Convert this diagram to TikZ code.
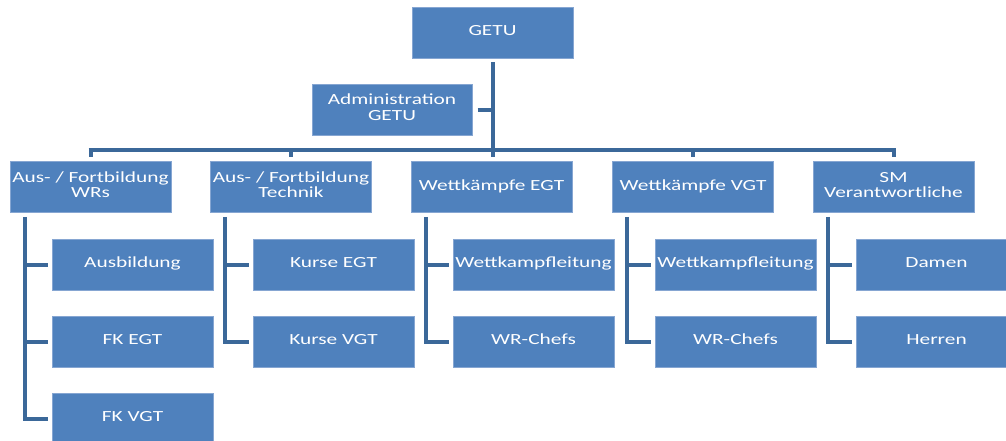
\documentclass[tikz,border=0pt]{standalone}
\usepackage{fontspec}
\setmainfont{Carlito}
\usepackage{graphicx}
\usetikzlibrary{calc}
\definecolor{boxblue}{HTML}{4F81BD}
\definecolor{boxedge}{HTML}{86A6D2}
\definecolor{lineblue}{HTML}{3B6899}
\newcommand{\boxtxt}[1]{\scalebox{1.38}[1]{\begin{tabular}{@{}c@{}}#1\end{tabular}}}

\begin{document}
\begin{tikzpicture}[x=0.75pt,y=-0.75pt,
	orgbox/.style={draw=boxedge, line width=0.6pt, fill=boxblue, text=white,
		minimum width=120.75pt, minimum height=38.25pt, inner sep=0pt,
		font=\fontsize{11.6}{11.5}\selectfont},
	conn/.style={draw=lineblue, line width=3pt}]

	\useasboundingbox (0,0) rectangle (1006,440);

	% top
	\node[orgbox] (getu) at (492.5,32.5) {\boxtxt{GETU}};
	\node[orgbox, minimum width=120pt] (admin) at (392,109.5) {\boxtxt{Administration\\GETU}};

	% first level
	\node[orgbox] (l1) at (90.5,187) {\boxtxt{Aus- / Fortbildung\\WRs}};
	\node[orgbox] (l2) at (291,187) {\boxtxt{Aus- / Fortbildung\\Technik}};
	\node[orgbox] (l3) at (491.5,187) {\boxtxt{Wettkämpfe EGT}};
	\node[orgbox] (l4) at (693,187) {\boxtxt{Wettkämpfe VGT}};
	\node[orgbox] (l5) at (893.5,187) {\boxtxt{SM\\Verantwortliche}};

	% second level
	\node[orgbox] (c11) at (132.5,264.5) {\boxtxt{Ausbildung}};
	\node[orgbox] (c12) at (132.5,341.5) {\boxtxt{FK EGT}};
	\node[orgbox] (c13) at (132.5,418.5) {\boxtxt{FK VGT}};

	\node[orgbox] (c21) at (333.5,264.5) {\boxtxt{Kurse EGT}};
	\node[orgbox] (c22) at (333.5,341.5) {\boxtxt{Kurse VGT}};

	\node[orgbox] (c31) at (533.5,264.5) {\boxtxt{Wettkampfleitung}};
	\node[orgbox] (c32) at (533.5,341.5) {\boxtxt{WR-Chefs}};

	\node[orgbox] (c41) at (735.5,264.5) {\boxtxt{Wettkampfleitung}};
	\node[orgbox] (c42) at (735.5,341.5) {\boxtxt{WR-Chefs}};

	\node[orgbox] (c51) at (936.5,264.5) {\boxtxt{Damen}};
	\node[orgbox] (c52) at (936.5,341.5) {\boxtxt{Herren}};

	% connectors top
	\coordinate (bus) at (492,150);
	\draw[conn, shorten <=3pt, shorten >=3pt] (getu.south) -- (getu.south |- l3.north);
	\draw[conn, shorten <=4pt] (admin.east) -- (admin.east -| getu.south);
	\draw[conn, shorten <=-1.5pt, shorten >=-1.5pt] (l1.north |- bus) -- (l5.north |- bus);
	\draw[conn, shorten >=3pt] (l1.north |- bus) -- (l1.north);
	\draw[conn, shorten >=3pt] (l2.north |- bus) -- (l2.north);
	\draw[conn, shorten >=3pt] (l4.north |- bus) -- (l4.north);
	\draw[conn, shorten >=3pt] (l5.north |- bus) -- (l5.north);

	% connectors second level
	\coordinate (t1) at ($(l1.south west)+(15,4)$);
	\draw[conn] (t1) |- ([xshift=-3pt]c13.west);
	\draw[conn] (t1 |- c11.west) -- ([xshift=-3pt]c11.west);
	\draw[conn] (t1 |- c12.west) -- ([xshift=-3pt]c12.west);

	\coordinate (t2) at ($(l2.south west)+(15,4)$);
	\draw[conn] (t2) |- ([xshift=-3pt]c22.west);
	\draw[conn] (t2 |- c21.west) -- ([xshift=-3pt]c21.west);

	\coordinate (t3) at ($(l3.south west)+(15,4)$);
	\draw[conn] (t3) |- ([xshift=-3pt]c32.west);
	\draw[conn] (t3 |- c31.west) -- ([xshift=-3pt]c31.west);

	\coordinate (t4) at ($(l4.south west)+(15,4)$);
	\draw[conn] (t4) |- ([xshift=-3pt]c42.west);
	\draw[conn] (t4 |- c41.west) -- ([xshift=-3pt]c41.west);

	\coordinate (t5) at ($(l5.south west)+(15,4)$);
	\draw[conn] (t5) |- ([xshift=-3pt]c52.west);
	\draw[conn] (t5 |- c51.west) -- ([xshift=-3pt]c51.west);

\end{tikzpicture}
\end{document}
